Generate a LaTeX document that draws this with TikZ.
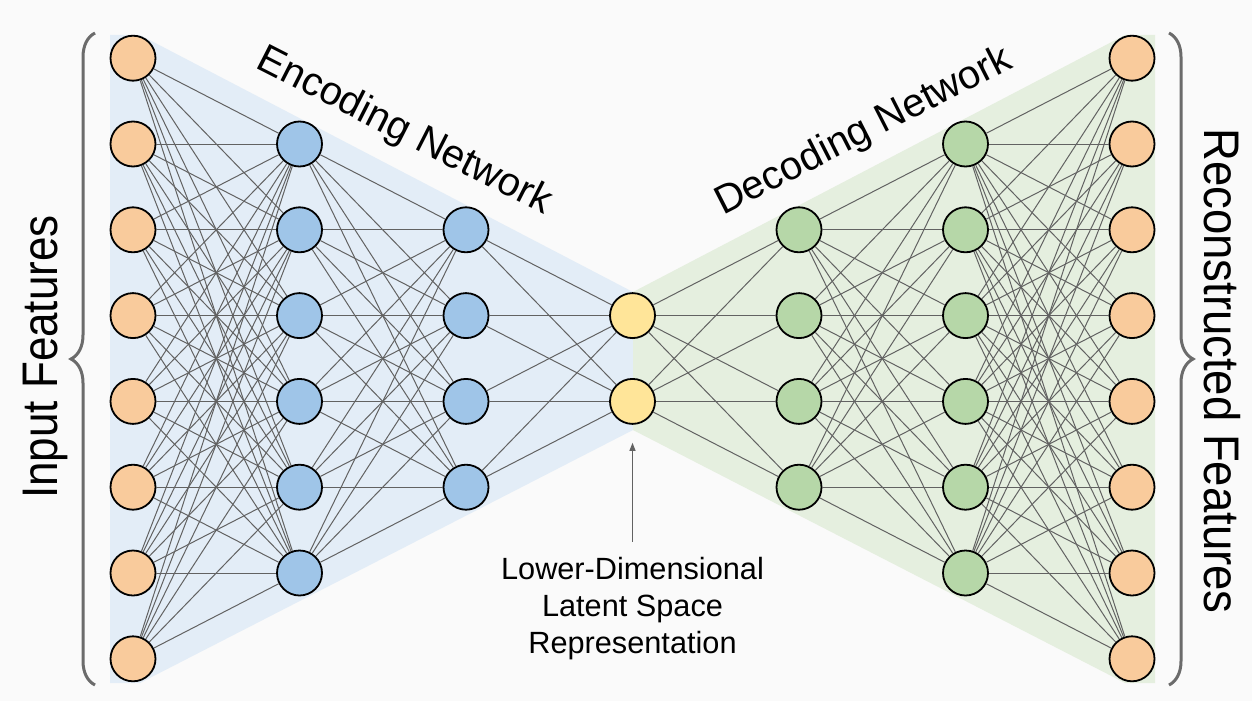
\documentclass[tikz,border=0pt]{standalone}
\usepackage{fontspec}
\setmainfont{Liberation Sans}
\usetikzlibrary{positioning,decorations.pathreplacing,arrows.meta}
\definecolor{bggray}{HTML}{FAFAFA}
\definecolor{inorange}{HTML}{F9CB9C}
\definecolor{encblue}{HTML}{9FC5E8}
\definecolor{latyellow}{HTML}{FFE599}
\definecolor{decgreen}{HTML}{B6D7A8}
\definecolor{encshade}{HTML}{E3EDF7}
\definecolor{decshade}{HTML}{E5EFDF}
\definecolor{linkgray}{HTML}{626262}
\definecolor{bracegray}{HTML}{6B6B6B}

\begin{document}
\begin{tikzpicture}[x=1pt, y=-1pt,
    roundnode/.style = {circle, draw=black, line width=1.8pt, minimum size=45pt, inner sep=0pt},
    innode/.style = {roundnode, fill=inorange},
    encnode/.style = {roundnode, fill=encblue},
    latnode/.style = {roundnode, fill=latyellow},
    decnode/.style = {roundnode, fill=decgreen},
    link/.style = {draw=linkgray, line width=1pt},
    bracket/.style = {decorate, decoration={brace, amplitude=24pt}, draw=bracegray, line width=3pt},
    pointer/.style = {draw=linkgray, line width=1pt, -{Triangle[length=8pt, width=6pt]}}]
     \useasboundingbox[fill=bggray] (0,0) rectangle (1252,701);
     \fill[encshade] (110,35) -- (140,35) -- (633,292) -- (633,430) -- (140,683) -- (110,683) -- cycle;
     \fill[decshade] (1155,35) -- (1125,35) -- (633,292) -- (633,430) -- (1125,683) -- (1155,683) -- cycle;

     \foreach \k in {1,...,8}
          \node[innode] (in\k) at (133, {358.5+(\k-4.5)*85.8}) {};
     \foreach \k in {1,...,6}
          \node[encnode] (encA\k) at (299.5, {358.5+(\k-3.5)*85.8}) {};
     \foreach \k in {1,...,4}
          \node[encnode] (encB\k) at (466, {358.5+(\k-2.5)*85.8}) {};
     \foreach \k in {1,2}
          \node[latnode] (lat\k) at (632.5, {358.5+(\k-1.5)*85.8}) {};
     \foreach \k in {1,...,4}
          \node[decnode] (decA\k) at (799, {358.5+(\k-2.5)*85.8}) {};
     \foreach \k in {1,...,6}
          \node[decnode] (decB\k) at (965.5, {358.5+(\k-3.5)*85.8}) {};
     \foreach \k in {1,...,8}
          \node[innode] (out\k) at (1132, {358.5+(\k-4.5)*85.8}) {};

     \foreach \a in {1,...,8} \foreach \b in {1,...,6} \draw[link] (in\a) -- (encA\b);
     \foreach \a in {1,...,6} \foreach \b in {1,...,4} \draw[link] (encA\a) -- (encB\b);
     \foreach \a in {1,...,4} \foreach \b in {1,2} \draw[link] (encB\a) -- (lat\b);
     \foreach \a in {1,2} \foreach \b in {1,...,4} \draw[link] (lat\a) -- (decA\b);
     \foreach \a in {1,...,4} \foreach \b in {1,...,6} \draw[link] (decA\a) -- (decB\b);
     \foreach \a in {1,...,6} \foreach \b in {1,...,8} \draw[link] (decB\a) -- (out\b);

     \draw[bracket] (95,685) -- (95,33);
     \draw[bracket] (1169,33) -- (1169,685);

     \node[rotate=90, font=\fontsize{50}{60}\selectfont] (inlabel) at (45,357) {\scalebox{0.88}[1]{Input Features}};
     \node[rotate=-90, font=\fontsize{50}{60}\selectfont] (outlabel) at (1222,371) {\scalebox{0.91}[1]{Reconstructed Features}};
     \node[rotate=-27, font=\fontsize{40}{48}\selectfont] (enclabel) at (404,132) {Encoding Network};
     \node[rotate=27, font=\fontsize{40}{48}\selectfont] (declabel) at (864,132) {Decoding Network};

     \node[font=\fontsize{30.7}{37}\selectfont, align=center, inner sep=0pt] (latlabel) [below=132pt of lat2] {Lower-Dimensional\\Latent Space\\Representation};
     \draw[pointer, shorten <=15pt, shorten >=18pt] (latlabel.north) -- (lat2.south);
\end{tikzpicture}
\end{document}
